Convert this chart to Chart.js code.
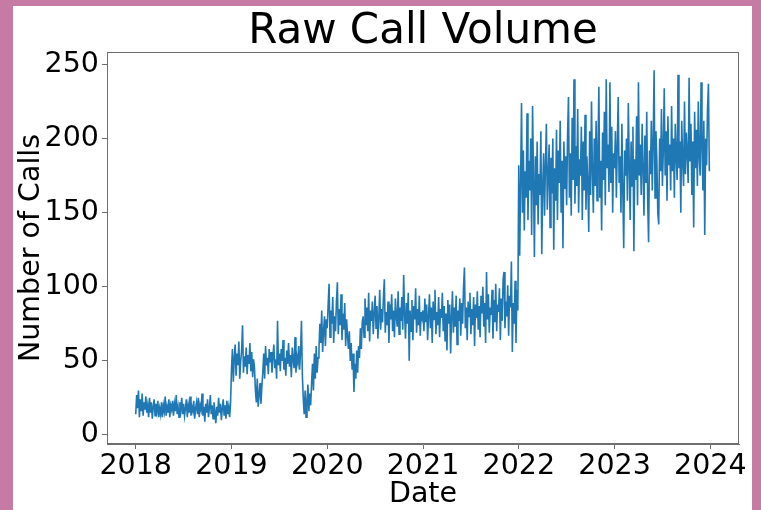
<!DOCTYPE html>
<html>
<head>
<meta charset="utf-8">
<title>Raw Call Volume</title>
<script src="https://cdn.jsdelivr.net/npm/chart.js@4/dist/chart.umd.min.js"></script>
<style>
  html, body { margin: 0; padding: 0; width: 761px; height: 510px; overflow: hidden; background: #c57ba4; }
  #frame { position: absolute; left: 13px; top: 6px; width: 739px; height: 504px; background: #ffffff; }
  canvas { display: block; }
</style>
</head>
<body>
<div id="frame"><canvas id="chart" width="739" height="504"></canvas></div>
<script>
// Twice-weekly call counts, one array per calendar year
const years = [2018, 2019, 2020, 2021, 2022, 2023];

const calls2018 = [
  14, 27, 18, 30, 12, 24, 16, 28, 13, 22, 17, 26, 15,
  20, 12, 25, 15, 22, 11, 19, 24, 13, 21, 16, 23, 12,
  18, 14, 22, 12, 20, 16, 26, 13, 19, 15, 24, 12, 20,
  17, 23, 13, 21, 16, 27, 14, 19, 12, 22, 17, 25, 14,
  21, 13, 18, 24, 12, 20, 15, 26, 13, 19, 16, 23, 11,
  18, 22, 14, 25, 12, 20, 17, 28, 13, 19, 9, 21, 15,
  24, 12, 18, 27, 14, 20, 11, 22, 16, 8, 19, 13, 25,
  15, 21, 10, 18, 24, 13, 20, 11, 23, 14, 19, 12, 22
];

const calls2019 = [
  44, 58, 36, 52, 61, 40, 55, 47, 63, 38, 50, 57, 74, 42, 53,
  46, 59, 41, 54, 48, 62, 43, 56, 39, 51, 45,
  30, 22, 38, 19, 27, 35, 21, 33,
  42, 55, 38, 60, 47, 52, 41, 58,
  49, 56, 42, 53, 61, 45, 51, 38, 77, 47, 55, 43, 58, 50, 64, 44, 52, 40,
  57, 48, 62, 46, 54, 39, 59, 51, 45, 66, 42, 53, 49, 60, 44, 56, 77,
  40, 24, 14, 30, 12, 22, 34, 16, 28, 20,
  35, 48, 30, 55, 38, 60, 42, 52,
  58, 75, 62, 84, 56, 70, 80, 60, 78
];

const calls2020 = [
  72, 88, 102, 66, 84, 75, 93, 62, 80, 70, 90, 103, 68, 85, 74, 95, 64, 82, 71, 89, 60, 78, 67,
  58, 70, 50, 62, 44, 55, 29, 48, 38, 57, 42, 60, 52, 72, 58, 76,
  80, 66, 92, 74, 86, 70, 96, 63, 84, 77, 90, 68, 82, 94, 72, 87, 65, 79, 98, 71,
  85, 76, 92, 105, 69, 83, 74, 90, 62, 88, 78, 95, 70, 84, 66, 92, 80, 73, 97, 68,
  86, 77, 93, 71, 108, 82, 65, 89, 75, 96, 50, 84, 70, 91, 64, 87, 78, 99, 69, 85,
  74, 94, 67, 83, 79
];

const calls2021 = [
  84, 70, 92, 76, 88, 64, 80, 95, 72, 86, 62, 90, 78, 98, 68, 83, 74, 93, 66, 85,
  79, 96, 70, 87, 63, 82, 57, 91, 75, 88, 55, 80, 97, 69, 86, 73, 94, 61, 84, 77,
  92, 67, 89, 75, 99, 113, 72, 86, 64, 90, 80, 96, 68, 85, 74, 93, 60, 88, 79, 97,
  71, 87, 66, 94, 82, 100, 73, 89, 62, 110, 78, 95, 69, 86, 81, 98, 65, 91, 76, 102,
  70, 88, 83, 99, 64, 92, 77, 105, 110, 72, 90, 80, 101, 67, 94, 86, 117, 56, 89, 75,
  104, 62, 98, 84
];

const calls2022 = [
  182, 121, 170, 224, 150, 192, 138, 178, 160, 217, 145, 185, 165, 200, 135, 222, 172, 120, 188, 155,
  198, 142, 176, 162, 205, 122,
  168, 190, 148, 183, 210, 152, 175, 196, 140, 187, 163, 200, 125, 180, 158, 206, 145, 192, 170, 212,
  150, 185, 126, 198, 166, 188,
  155, 202, 228, 160, 190, 148, 214, 172, 240, 156, 195, 168, 220, 150, 186, 175, 208, 145, 198, 165,
  216, 152, 188, 170, 137, 205,
  162, 225, 178, 150, 200, 168, 212, 158, 192, 235, 160, 185, 138, 204, 172, 218, 155, 240, 180, 196,
  164, 238, 170, 208, 150, 190
];

const calls2023 = [
  180, 205, 160, 195, 228, 170, 188, 150, 210, 165, 126, 192, 175, 200, 158, 224, 182, 145, 198, 168,
  208, 124, 186, 172, 215, 155,
  238, 175, 196, 162, 210, 180, 148, 202, 170, 218, 158, 130, 192, 176, 212, 165, 198, 246, 160, 205,
  185, 150, 142, 200, 178, 220,
  168, 192, 234, 175, 205, 158, 215, 182, 196, 165, 222, 178, 200, 160, 210, 188, 172, 243, 180, 198,
  150, 212, 185, 168, 225, 176,
  204, 190, 170, 241, 185, 210, 162, 198, 140, 218, 180, 206, 168, 225, 188, 175, 238, 195, 165, 212,
  135, 200, 182, 220, 237, 178
];

// Axis tick values
const xTickYears = [2018, 2019, 2020, 2021, 2022, 2023, 2024];
const yTickValues = [0, 50, 100, 150, 200, 250];

// Each year's samples are spread evenly across that year
const callsByYear = [calls2018, calls2019, calls2020, calls2021, calls2022, calls2023];
const points = [];
callsByYear.forEach((vals, i) => {
  vals.forEach((v, k) => points.push({ x: years[i] + k / vals.length, y: v }));
});

const FONT = '"DejaVu Sans", "Liberation Sans", sans-serif';
const SPINE = '#6e6e6e';

// Closed frame around the plotting area
const frameBox = {
  id: 'frameBox',
  afterDatasetsDraw(chart) {
    const { ctx, chartArea: a } = chart;
    ctx.save();
    ctx.strokeStyle = SPINE;
    ctx.lineWidth = 1;
    ctx.strokeRect(Math.round(a.left) + 0.5, Math.round(a.top) + 0.5,
                   Math.round(a.right - a.left) - 1, Math.round(a.bottom - a.top) - 1);
    ctx.restore();
  }
};

new Chart(document.getElementById('chart'), {
  type: 'line',
  data: {
    datasets: [{
      label: 'Calls',
      data: points,
      borderColor: '#1f77b4',
      borderWidth: 1.6,
      pointRadius: 0,
      tension: 0,
      fill: false
    }]
  },
  options: {
    responsive: false,
    animation: false,
    layout: { padding: { left: 0, right: 13, top: 0, bottom: 0 } },
    plugins: {
      legend: { display: false },
      tooltip: { enabled: false },
      title: {
        display: true,
        text: 'Raw Call Volume',
        fullSize: false,
        color: '#000',
        font: { family: FONT, size: 42, weight: 'normal', lineHeight: 0.95 },
        padding: { top: 6, bottom: 0.1 }
      }
    },
    scales: {
      x: {
        type: 'linear',
        min: 2017.7,
        max: 2024.3,
        afterBuildTicks(scale) { scale.ticks = xTickYears.map(v => ({ value: v })); },
        afterFit(scale) { scale.height = 66; },
        grid: { display: true, drawOnChartArea: false, drawTicks: true, tickLength: 5, color: SPINE, lineWidth: 1 },
        border: { display: true, color: SPINE, width: 1 },
        ticks: {
          color: '#000', padding: 0, maxRotation: 0, autoSkip: false,
          font: { family: FONT, size: 28.5 },
          callback: v => String(v)
        },
        title: {
          display: true, text: 'Date', color: '#000',
          font: { family: FONT, size: 28.5, lineHeight: 1.0 },
          padding: { top: 0, bottom: 1.3 }
        }
      },
      y: {
        type: 'linear',
        min: -6.1,
        max: 258.4,
        afterBuildTicks(scale) { scale.ticks = yTickValues.map(v => ({ value: v })); },
        afterFit(scale) { scale.width = 94; },
        grid: { display: true, drawOnChartArea: false, drawTicks: true, tickLength: 5, color: SPINE, lineWidth: 1 },
        border: { display: true, color: SPINE, width: 1 },
        ticks: {
          color: '#000', padding: 3, autoSkip: false,
          font: { family: FONT, size: 28.5 },
          callback: v => String(v)
        },
        title: {
          display: true, text: 'Number of Calls', color: '#000',
          font: { family: FONT, size: 28.5 },
          padding: { top: 1, bottom: 0 }
        }
      }
    }
  },
  plugins: [frameBox]
});
</script>
</body>
</html>
